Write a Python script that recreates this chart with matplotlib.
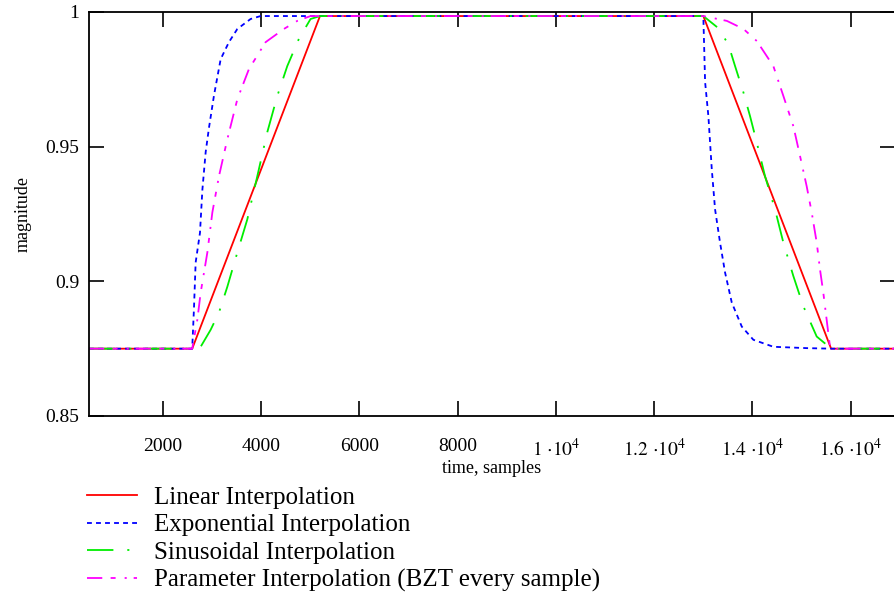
import matplotlib
matplotlib.use('Agg')
import matplotlib.pyplot as plt

plt.rcParams['font.family'] = ['Liberation Serif', 'DejaVu Serif']
plt.rcParams['mathtext.fontset'] = 'stix'
plt.rcParams['lines.scale_dashes'] = False

# Linear interpolation
lin_t = [500, 2600, 5200, 13000, 15600, 16900]
lin_y = [0.875, 0.875, 0.9985, 0.9985, 0.875, 0.875]

# Exponential interpolation
exp_t = [500, 2600, 2636, 2670, 2758, 2807, 2874, 2941, 3043, 3179, 3347, 3518, 3788, 3992, 5200,
         13000, 13036, 13103, 13172, 13239, 13340, 13442, 13579, 13782, 14018, 14425, 15103, 15600, 16900]
exp_y = [0.875, 0.875, 0.890, 0.907, 0.918, 0.934, 0.948, 0.957, 0.969, 0.9825, 0.9888, 0.9937, 0.9974, 0.9985, 0.9985,
         0.9985, 0.974, 0.9613, 0.9416, 0.9267, 0.9144, 0.9033, 0.8921, 0.8832, 0.8783, 0.8757, 0.8752, 0.875, 0.875]

# Sinusoidal interpolation
sin_t = [500, 2600, 2772, 2975, 3144, 3315, 3518, 3721, 3924, 4128, 4331, 4534, 4770, 5008, 5200,
         13000, 13306, 13509, 13646, 13815, 13951, 14087, 14256, 14459, 14628, 14831, 15034, 15307, 15577, 15600, 16900]
sin_y = [0.875, 0.875, 0.8757, 0.882, 0.8884, 0.898, 0.9107, 0.923, 0.939, 0.9554, 0.9688, 0.9799, 0.990, 0.9974, 0.9985,
         0.9985, 0.994, 0.988, 0.9799, 0.9702, 0.9613, 0.9516, 0.939, 0.9267, 0.9144, 0.902, 0.8908, 0.8795, 0.8754, 0.875, 0.875]

# Parameter interpolation (BZT every sample)
par_t = [500, 2600, 2705, 2772, 2908, 3010, 3144, 3315, 3518, 3754, 4093, 4465, 4738, 5008, 5200,
         13000, 13479, 13817, 14089, 14425, 14629, 14832, 14968, 15103, 15205, 15307, 15374, 15441, 15509, 15577, 15600, 16900]
par_y = [0.875, 0.875, 0.8858, 0.8958, 0.9107, 0.9256, 0.939, 0.9528, 0.9676, 0.9788, 0.9888, 0.9937, 0.9967, 0.9985, 0.9985,
         0.9985, 0.9967, 0.9937, 0.9892, 0.9799, 0.9688, 0.9576, 0.9465, 0.9353, 0.9256, 0.9144, 0.9044, 0.8958, 0.8858, 0.8757, 0.875, 0.875]

x_ticks = [2000, 4000, 6000, 8000, 10000, 12000, 14000, 16000]
x_tick_labels = ['2000', '4000', '6000', '8000', r'$1\ {\cdot}10^{4}$', r'$1.2\ {\cdot}10^{4}$',
                 r'$1.4\ {\cdot}10^{4}$', r'$1.6\ {\cdot}10^{4}$']
y_ticks = [0.85, 0.9, 0.95, 1.0]
y_tick_labels = ['0.85', '0.9', '0.95', '1']

fig = plt.figure(figsize=(8.95, 5.97), dpi=100)
ax = fig.add_axes([89 / 895, 1 - 416 / 597, 1 - 89 / 895, (416 - 12) / 597])

lw = 1.3
ax.plot(lin_t, lin_y, color='#ff0000', lw=lw, ls='-', label='Linear Interpolation')
ax.plot(exp_t, exp_y, color='#0000ff', lw=lw, ls=(0, (3.5, 3)), label='Exponential Interpolation')
ax.plot(sin_t, sin_y, color='#00ee00', lw=lw, ls=(0, (19, 10, 1.5, 10)), label='Sinusoidal Interpolation')
ax.plot(par_t, par_y, color='#ff00ff', lw=lw, ls=(0, (11, 6, 3.6, 6.5, 1.5, 5)),
        label='Parameter Interpolation (BZT every sample)')

ax.set_xlim(500, 16900)
ax.set_ylim(0.85, 1.0)
ax.set_xticks(x_ticks)
ax.set_xticklabels(x_tick_labels)
ax.set_yticks(y_ticks)
ax.set_yticklabels(y_tick_labels)

ax.tick_params(axis='both', direction='in', length=10.5, width=1.2, labelsize=14,
               top=True, right=True)
ax.tick_params(axis='x', pad=15.5)
ax.tick_params(axis='y', pad=7)
for s in ax.spines.values():
    s.set_linewidth(1.3)

ax.set_xlabel('time, samples', fontsize=13, labelpad=0)
ax.set_ylabel('magnitude', fontsize=13, labelpad=10)

fig.legend(loc='upper left', bbox_to_anchor=(75 / 895, 1 - 474 / 597), frameon=False,
           fontsize=18, handlelength=1.96, handletextpad=0.72, labelspacing=0.2, borderpad=0)

fig.savefig('out.png', dpi=100)
